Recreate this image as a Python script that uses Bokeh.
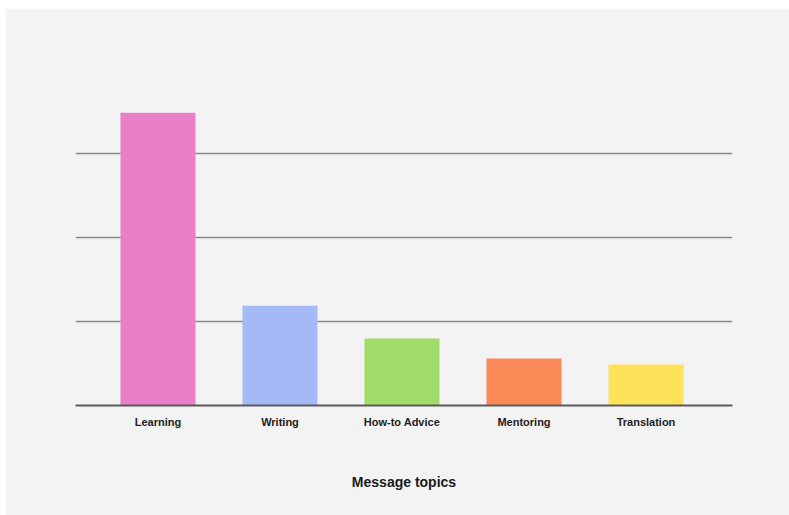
from bokeh.plotting import figure
from bokeh.models import ColumnDataSource, Range1d, FixedTicker
from bokeh.embed import file_html
from bokeh.resources import INLINE

topics = ["Learning", "Writing", "How-to Advice", "Mentoring", "Translation"]
counts = [34.9, 11.9, 8.0, 5.6, 4.9]
grid_ticks = [0, 10, 20, 30]
bar_colors = ["#e97fc6", "#a4baf6", "#a0dc68", "#f98a58", "#fde25a"]

BG = "#f3f3f3"

positions = list(range(len(topics)))
src = ColumnDataSource(dict(x=positions, count=counts, color=bar_colors))

p = figure(
    width=784, height=507,
    x_range=Range1d(-0.676, 4.709),
    y_range=Range1d(0, 36),
    output_backend="svg", toolbar_location=None,
    y_axis_location=None,
    min_border_left=70, min_border_right=57, min_border_top=95, min_border_bottom=110,
)
p.styles = {"margin-left": "5px", "margin-top": "8px"}
p.background_fill_color = BG
p.border_fill_color = BG
p.outline_line_color = None

p.vbar(x="x", top="count", width=0.615, source=src, fill_color="color", line_color=None)

p.xgrid.grid_line_color = None
p.ygrid.ticker = FixedTicker(ticks=grid_ticks)
p.ygrid.grid_line_color = "#8a8a8a"
p.ygrid.grid_line_width = 1.5
p.ygrid.level = "underlay"

ax = p.xaxis[0]
ax.ticker = FixedTicker(ticks=positions)
ax.major_label_overrides = {i: t for i, t in zip(positions, topics)}
ax.axis_line_color = "#5a5a5a"
ax.axis_line_width = 2
ax.major_tick_line_color = None
ax.minor_tick_line_color = None
ax.major_tick_out = 0
ax.major_label_standoff = 10
ax.major_label_text_font = "Liberation Sans"
ax.major_label_text_font_style = "bold"
ax.major_label_text_font_size = "11px"
ax.major_label_text_color = "#222222"
ax.axis_label = "Message topics"
ax.axis_label_text_font = "Liberation Sans"
ax.axis_label_text_font_style = "bold"
ax.axis_label_text_font_size = "14px"
ax.axis_label_text_color = "#1a1a1a"
ax.axis_label_standoff = 43

open("out.html", "w").write(file_html(p, INLINE))
